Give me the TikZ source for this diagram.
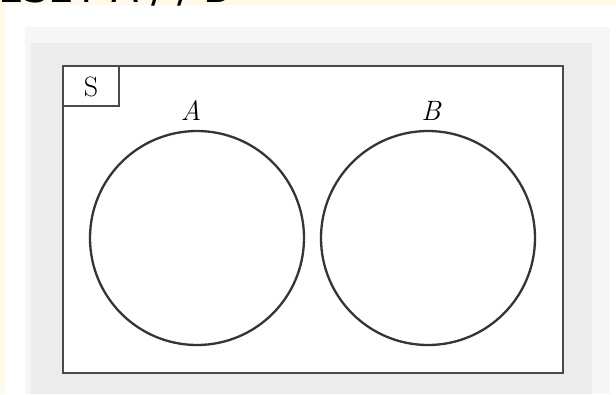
\documentclass[tikz,border=0pt]{standalone}
\usepackage{fontspec}
\newfontfamily\headfont{DejaVu Sans}
\definecolor{paleyellow}{HTML}{FFF9E8}
\definecolor{panelgray}{HTML}{ECECEC}
\definecolor{faintgray}{HTML}{F6F6F6}
\definecolor{framegray}{HTML}{4A4A4A}
\definecolor{circlegray}{HTML}{353535}
\tikzset{
  framebox/.style={draw=framegray, line width=2.6pt, fill=white},
  setcircle/.style={circle, draw=circlegray, line width=2.3pt, minimum size=214pt, inner sep=0pt},
  setlabel/.style={font=\fontsize{28}{30}\selectfont\itshape, inner sep=0pt},
  unilabel/.style={font=\fontsize{28}{30}\selectfont, inner sep=0pt}
}
\begin{document}
\begin{tikzpicture}[x=1pt,y=-1pt]
\useasboundingbox (0,0) rectangle (616,394);
% backgrounds
\fill[paleyellow] (0,0) rectangle (616,394);
\fill[white] (5,5) rectangle (616,394);
\begin{scope}
\clip (0,0) rectangle (616,10);
\node[anchor=base west, inner sep=0pt, font=\headfont\fontsize{40}{40}\selectfont] (head) at (-2,2.5) {ESET A / / B};
\end{scope}
\fill[faintgray] (25,27) rectangle (610,394);
\fill[panelgray] (31,43) rectangle (592,394);
% universe
\draw[framebox] (63,66) rectangle (563,373);
\draw[framegray, line width=2.2pt] (63,106) -- (119,106) -- (119,66);
\node[unilabel] (S) at (91,87) {S};
% sets
\node[setcircle] (A) at (197,238) {};
\node[setcircle] (B) at (428,238) {};
\node[setlabel] (la) at (191,111) {A};
\node[setlabel] (lb) at (431,111) {B};
\end{tikzpicture}
\end{document}
